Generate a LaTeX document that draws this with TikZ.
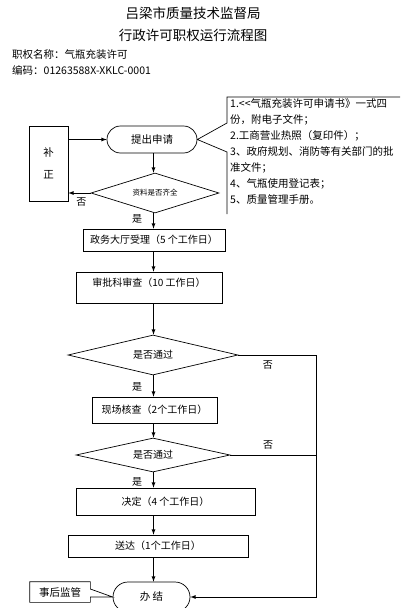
\documentclass[tikz,border=0pt]{standalone}
\usepackage{fontspec}
\setmainfont{Noto Sans CJK SC}
\usepackage{tikz}
\usetikzlibrary{positioning,arrows,shapes,calc}

\begin{document}
\begin{tikzpicture}[x=1pt,y=-1pt,
  stepbox/.style={rectangle,draw,line width=0.7pt,inner sep=0pt,font=\fontsize{10}{12}\selectfont},
  endbox/.style={rectangle,draw,line width=0.7pt,rounded corners=#1,inner sep=0pt,font=\fontsize{10.5}{12}\selectfont},
  decision/.style={diamond,draw,line width=0.7pt,aspect=4,inner sep=0pt,font=\fontsize{10}{12}\selectfont},
  flow/.style={->,>=latex,line width=0.8pt},
  link/.style={line width=0.7pt},
  tag/.style={font=\fontsize{10}{12}\selectfont,inner sep=1pt},
  title/.style={font=\fontsize{13.5}{16}\selectfont},
  info/.style={font=\fontsize{10.5}{12}\selectfont,anchor=west,inner sep=0pt},
]
\fill[white] (0,0) rectangle (400,608);
\useasboundingbox (0,0) rectangle (400,608);

% === Header ===
\node[title] (head) at (193,13) {吕梁市质量技术监督局};
\node[title] (subhead) at (193,35) {行政许可职权运行流程图};
\node[info] (power) at (12,55) {职权名称：气瓶充装许可};
\node[info] (code) at (12,70) {编码：01263588X-XKLC-0001};

\coordinate (spine) at (153.5,0);
\coordinate (back) at (316,0);

% === Application ===
\node[stepbox,font=\fontsize{10.5}{12}\selectfont,align=center,minimum width=39,minimum height=75] (fix) at (48.5,163.5) {补\\[10pt]正};
\node[endbox=13.5,minimum width=90,minimum height=27] (apply) at (152,139.5) {提出申请};
\node[decision,aspect=3.2,font=\fontsize{7.5}{9}\selectfont,minimum width=128,minimum height=40] (check) at (155,193) {资料是否齐全};

\draw[flow] (fix.east |- apply.west) -- (apply.west);
\draw[flow] (apply.south -| spine) -- (check.north -| spine);
\draw[flow] (check.west) -- node[tag,below=3pt,pos=0.42] {否} (check.west -| fix.east);

% === Materials callout ===
\draw[link] (400,97) -- (227,97) -- (227,123) -- (apply.east) -- (227,152) -- (227,214);
\node[anchor=north west,align=left,inner sep=0pt,font=\fontsize{10.5}{16}\selectfont] (docs) at (230,98) {%
1.<{}<气瓶充装许可申请书》一式四\\
份，附电子文件；\\
2.工商营业热照（复印件）；\\
3、政府规划、消防等有关部门的批\\
准文件；\\
4、气瓶使用登记表；\\
5、质量管理手册。};

% === Review steps ===
\node[stepbox,minimum width=142,minimum height=22] (accept) at (154,240) {政务大厅受理（5 个工作日）};
\node[stepbox,minimum width=146,minimum height=31] (review) at (149,287.5) {\raisebox{11pt}{审批科审查（10 工作日）}};
\node[decision,minimum width=170,minimum height=40] (pass1) at (153,355) {是否通过};
\node[stepbox,minimum width=125,minimum height=26] (site) at (154.5,410) {现场核查（2个工作日）};
\node[decision,minimum width=154,minimum height=34] (pass2) at (153,455) {是否通过};
\node[stepbox,minimum width=179,minimum height=27] (decide) at (165.5,501.5) {决定（4 个工作日）};
\node[stepbox,minimum width=180,minimum height=22] (send) at (158,546) {送达（1个工作日）};
\node[endbox=15,minimum width=77,minimum height=30] (done) at (151.5,597) {办\ 结};

\draw[flow] (check.south -| spine) -- node[tag,left=10pt,pos=0.35] {是} (accept.north -| spine);
\draw[flow] (accept.south -| spine) -- (review.north -| spine);
\draw[flow] (review.south -| spine) -- (pass1.north -| spine);
\draw[flow] (pass1.south -| spine) -- node[tag,left=10pt,pos=0.55] {是} (site.north -| spine);
\draw[flow] (site.south -| spine) -- (pass2.north -| spine);
\draw[flow] (pass2.south -| spine) -- node[tag,left=10pt,pos=0.6] {是} (decide.north -| spine);
\draw[flow] (decide.south -| spine) -- (send.north -| spine);
\draw[flow] (send.south -| spine) -- (done.north -| spine);

% === Rejection loop ===
\draw[link] (pass1.east) -- node[tag,below=4pt,pos=0.38] {否} (pass1.east -| back);
\draw[link] (pass2.east) -- node[tag,above=4pt,pos=0.44] {否} (pass2.east -| back);
\draw[flow] (pass1.east -| back) -- (back |- done.east) -- (done.east);

% === Supervision callout ===
\node[stepbox,draw=none,minimum width=60,minimum height=20,font=\fontsize{10.5}{12}\selectfont] (watch) at (60,592) {事后监管};
\draw[link] (watch.north west) -- (watch.north east) -- ($(watch.east)+(0,-3)$) -- (done.west) -- ($(watch.east)+(0,5)$) -- (watch.south east) -- (watch.south west) -- cycle;

\end{tikzpicture}
\end{document}
